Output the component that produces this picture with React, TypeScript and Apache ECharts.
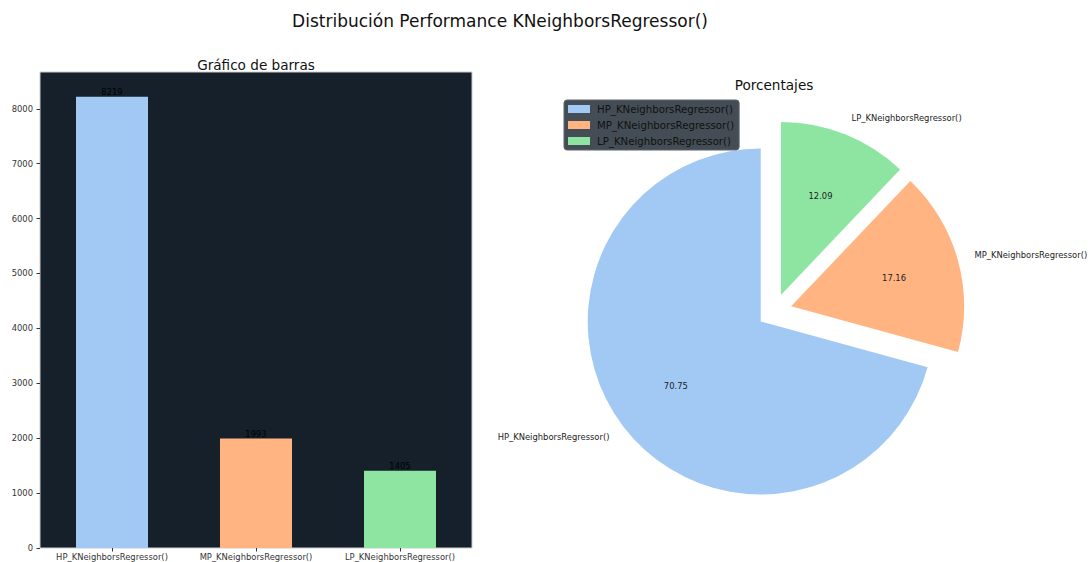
import React, { useEffect, useRef } from "react";
import * as echarts from "echarts";

const categories = [
  "HP_KNeighborsRegressor()",
  "MP_KNeighborsRegressor()",
  "LP_KNeighborsRegressor()",
];
const counts = [8219, 1993, 1405];
const colors = ["#a1c9f4", "#ffb482", "#8de5a1"];
const yTicks = [0, 1000, 2000, 3000, 4000, 5000, 6000, 7000, 8000];
const mainTitle = "Distribución Performance KNeighborsRegressor()";
const barTitle = "Gráfico de barras";
const pieTitle = "Porcentajes";

const FONT = "DejaVu Sans";
const SMALL = 8.4;
const PIE_R = 173;
const PIE_CENTER = [774.5, 311];
const EXPLODE = 17.3;

export default function App() {
  const ref = useRef<HTMLDivElement>(null);
  useEffect(() => {
    if (!ref.current) return;
    const chart = echarts.init(ref.current, undefined, { renderer: "svg" });
    const pieData = categories.map((c, i) => ({
      name: c,
      value: counts[i],
      selected: true,
      itemStyle: { color: colors[i] },
    }));
    const pieDataT = categories.map((c, i) => ({
      name: c,
      value: counts[i],
      selected: true,
    }));
    chart.setOption({
      animation: false,
      textStyle: { fontFamily: FONT },
      graphic: [
        {
          type: "text",
          x: 500,
          y: 21,
          style: {
            text: mainTitle,
            font: `17px '${FONT}'`,
            fill: "#111",
            textAlign: "center",
            textVerticalAlign: "middle",
          },
        },
        {
          type: "text",
          x: 256,
          y: 65,
          style: {
            text: barTitle,
            font: `13.6px '${FONT}'`,
            fill: "#111",
            textAlign: "center",
            textVerticalAlign: "middle",
          },
        },
        {
          type: "text",
          x: 774,
          y: 85,
          style: {
            text: pieTitle,
            font: `13.6px '${FONT}'`,
            fill: "#111",
            textAlign: "center",
            textVerticalAlign: "middle",
          },
        },
      ],
      legend: {
        orient: "vertical",
        left: 564,
        top: 100,
        data: categories,
        icon: "rect",
        itemWidth: 22,
        itemHeight: 8,
        itemGap: 6,
        padding: [4, 5, 4, 4],
        backgroundColor: "#444d55",
        borderColor: "#5d656d",
        borderWidth: 1,
        borderRadius: 3,
        textStyle: { color: "#111", fontSize: 10.2, fontFamily: FONT, padding: [0, 0, 0, 2] },
        selectedMode: false,
      },
      grid: {
        left: 40,
        top: 72,
        width: 432,
        height: 476,
        show: true,
        backgroundColor: "#15202b",
        borderColor: "#cccccc",
        borderWidth: 1,
      },
      xAxis: {
        type: "category",
        data: categories,
        axisLine: { show: false },
        axisTick: { show: true, alignWithLabel: true, length: 3.5, lineStyle: { color: "#333" } },
        axisLabel: { fontSize: SMALL, color: "#333", margin: 5, fontFamily: FONT, interval: 0 },
      },
      yAxis: {
        type: "value",
        min: 0,
        max: 8670,
        interval: 1000,
        splitLine: { show: false },
        axisLine: { show: false },
        axisTick: { show: true, length: 3.5, lineStyle: { color: "#333" }, customValues: yTicks },
        axisLabel: {
          fontSize: SMALL,
          color: "#333",
          margin: 7,
          fontFamily: FONT,
          customValues: yTicks,
          formatter: (v: number) => String(v),
        },
      },
      series: [
        {
          type: "bar",
          barWidth: "50%",
          data: counts.map((v, i) => ({ value: v, itemStyle: { color: colors[i] } })),
          label: {
            show: true,
            position: "top",
            distance: 1,
            color: "#000",
            fontSize: SMALL,
            fontFamily: FONT,
          },
          emphasis: { disabled: true },
        },
        {
          type: "pie",
          center: PIE_CENTER,
          radius: PIE_R,
          startAngle: 90,
          clockwise: false,
          selectedMode: "multiple",
          selectedOffset: EXPLODE,
          avoidLabelOverlap: false,
          data: pieData,
          label: {
            show: true,
            position: "outside",
            formatter: "{b}",
            fontSize: SMALL,
            color: "#222",
            fontFamily: FONT,
            alignTo: "none",
            distanceToLabelLine: 0,
          },
          labelLine: { show: false, length: PIE_R * 0.1, length2: 0 },
          emphasis: { disabled: true },
          select: { itemStyle: { borderWidth: 0 } },
        },
        {
          type: "pie",
          center: PIE_CENTER,
          radius: PIE_R * 1.2,
          startAngle: 90,
          clockwise: false,
          selectedMode: "multiple",
          selectedOffset: EXPLODE,
          avoidLabelOverlap: false,
          silent: true,
          data: pieDataT,
          itemStyle: { color: "rgba(0,0,0,0)", borderWidth: 0 },
          label: {
            show: true,
            position: "inside",
            formatter: (p: any) => p.percent.toFixed(2),
            fontSize: SMALL,
            color: "#222",
            fontFamily: FONT,
          },
          labelLine: { show: false },
          emphasis: { disabled: true },
          select: { itemStyle: { borderWidth: 0, color: "rgba(0,0,0,0)" } },
        },
      ],
    });
    return () => chart.dispose();
  }, []);
  return (
    <div
      ref={ref}
      style={{ position: "absolute", left: 0, top: 0, width: 1091, height: 562, background: "#fff" }}
    />
  );
}
